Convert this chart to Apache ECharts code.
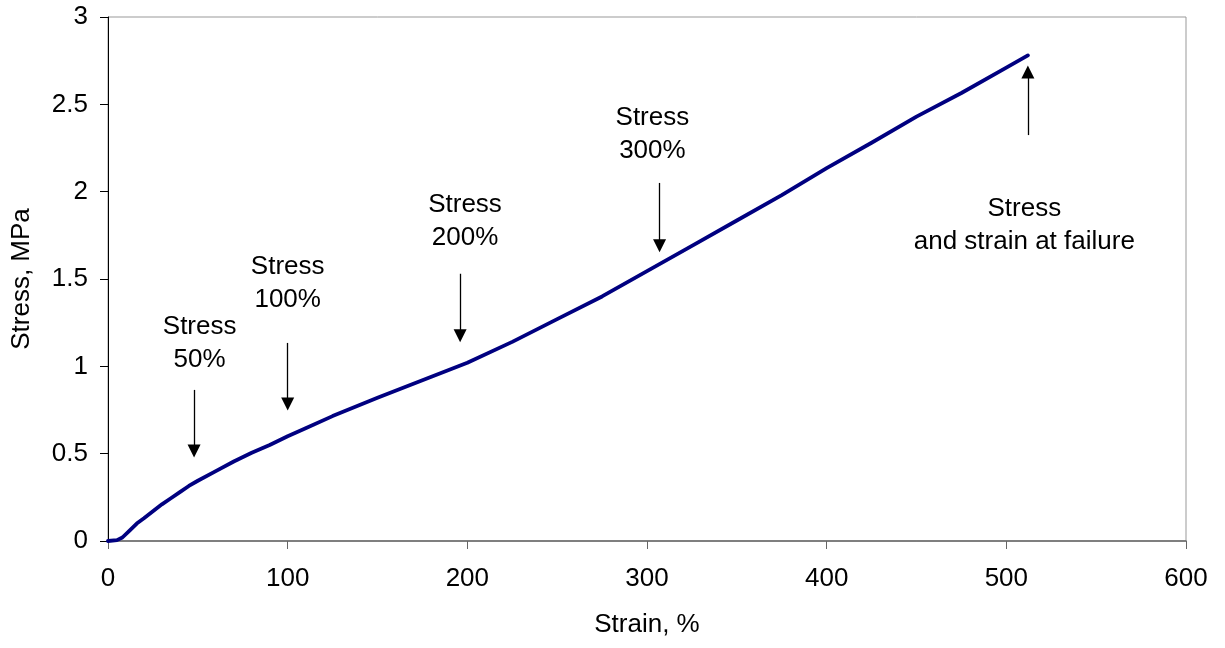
<!DOCTYPE html>
<html><head><meta charset="utf-8">
<script src="https://cdn.jsdelivr.net/npm/echarts@6/dist/echarts.min.js"></script>
<style>html,body{margin:0;padding:0;background:#fff}#c{width:1225px;height:648px}</style>
</head><body><div id="c"></div>
<script>
var strain = [0,5,8,12,16,20,25,30,35,40,45,50,60,70,80,90,100,110,125,150,175,200,225,250,275,300,325,350,375,400,425,450,475,500,512];
var stress = [0,0.005,0.02,0.06,0.1,0.13,0.17,0.21,0.245,0.28,0.315,0.345,0.40,0.455,0.505,0.55,0.60,0.645,0.715,0.82,0.92,1.02,1.14,1.27,1.40,1.545,1.69,1.835,1.98,2.135,2.28,2.43,2.565,2.71,2.78];
// annotation arrows: x, y start (tail), y end (head centre)
var arrowX = [47.9, 100, 196, 307, 512];
var arrowFrom = [0.865, 1.134, 1.53, 2.05, 2.324];
var arrowTo = [0.515, 0.785, 1.175, 1.69, 2.685];
// annotation labels
var labelText = ['Stress\n50%', 'Stress\n100%', 'Stress\n200%', 'Stress\n300%', 'Stress\nand strain at failure'];
var labelX = [51, 100, 198.7, 303, 510];
var labelY = [1.13, 1.475, 1.83, 2.33, 1.805];

var font = 'Liberation Sans, Arial, sans-serif';
var curve = strain.map(function(s,i){return [s, stress[i]];});
var arrows = arrowX.map(function(x,i){return [{coord:[x, arrowFrom[i]]},{coord:[x, arrowTo[i]]}];});
var labels = labelX.map(function(x,i){return {value:[x, labelY[i]], name:labelText[i]};});

var chart = echarts.init(document.getElementById('c'), null, {renderer:'canvas'});
chart.setOption({
  animation:false,
  backgroundColor:'#fff',
  grid:{left:108,right:39,top:17,bottom:107,show:true,borderColor:'#999',borderWidth:1},
  xAxis:{type:'value',min:0,max:600,interval:100,
    name:'Strain, %',nameLocation:'middle',nameGap:71,
    nameTextStyle:{fontFamily:font,fontSize:26,color:'#000'},
    axisLine:{show:true,lineStyle:{color:'#666',width:1.5}},
    axisTick:{show:true,length:8,lineStyle:{color:'#666'}},
    axisLabel:{fontFamily:font,fontSize:26,color:'#000',margin:25},
    splitLine:{show:false}},
  yAxis:{type:'value',min:0,max:3,interval:0.5,
    name:'Stress, MPa',nameLocation:'middle',nameGap:73,nameRotate:90,
    nameTextStyle:{fontFamily:font,fontSize:26,color:'#000'},
    axisLine:{show:true,lineStyle:{color:'#000',width:1}},
    axisTick:{show:true,length:8,lineStyle:{color:'#000'}},
    axisLabel:{fontFamily:font,fontSize:26,color:'#000',margin:20},
    splitLine:{show:false}},
  series:[
    {type:'line',data:curve,showSymbol:false,smooth:false,
     lineStyle:{color:'#000080',width:3.8,join:'round',cap:'round'},
     markLine:{silent:true,symbol:['none','triangle'],symbolSize:13,
       label:{show:false},
       lineStyle:{color:'#000',width:1.3,type:'solid'},
       data:arrows}},
    {type:'scatter',data:labels,symbolSize:0,silent:true,
     itemStyle:{color:'#000',opacity:1},
     label:{show:true,position:'inside',formatter:function(p){return p.name;},
       fontFamily:font,fontSize:26,color:'#000',textBorderWidth:0,lineHeight:33,align:'center',verticalAlign:'middle'}}
  ]
});
</script></body></html>
